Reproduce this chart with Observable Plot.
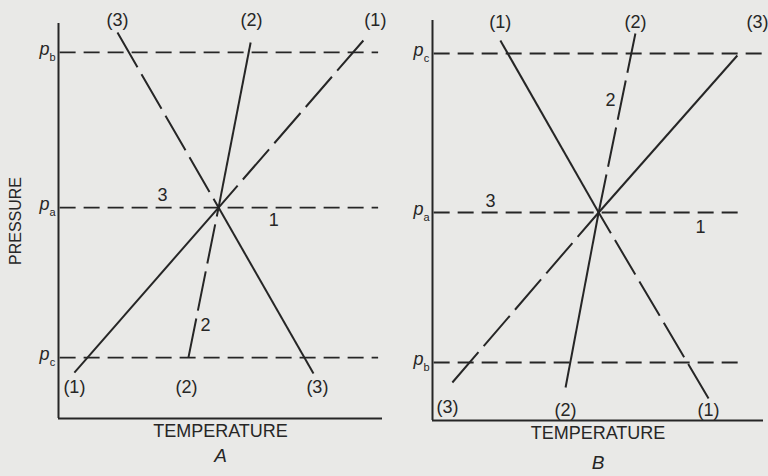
<!DOCTYPE html>
<html>
<head>
<meta charset="utf-8">
<script src="https://cdn.jsdelivr.net/npm/d3@7"></script>
<script src="https://cdn.jsdelivr.net/npm/@observablehq/plot@0.6"></script>
<style>
  html, body { margin: 0; padding: 0; background: #e9e9e7; }
  #page { position: relative; width: 768px; height: 476px; overflow: hidden; }
  .panel { position: absolute; top: 0; }
</style>
</head>
<body>
<div id="page">
  <div class="panel" id="panelA" style="left:0"></div>
  <div class="panel" id="panelB" style="left:384px"></div>
</div>
<script>
// ---- Panel A: three univariant curves meeting at the invariant point ----
const curvesA = ["(1)", "(2)", "(3)"];
const tripleA = [49.4, 53.4];                               // [temperature, pressure]
const lowEndsA = [[4.9, 11.6], [40.1, 15.4], [78.7, 11.4]];
const highEndsA = [[94.1, 95.7], [59.3, 95.2], [18.2, 97.7]];
const metastableA = ["high", "low", "high"];                // which half is metastable
const isobarNamesA = ["b", "a", "c"];
const isobarPressA = [92.7, 53.4, 15.4];
const isobarSpanA = [[0.5, 98.8], [0.5, 98.8], [0.5, 98.8]];
const topLabelPosA = [[97.8, 100.8], [59.6, 100.8], [18.2, 100.8]];
const bottomLabelPosA = [[4.9, 7.8], [39.5, 7.8], [79.9, 7.8]];
const fieldNamesA = ["3", "1", "2"];
const fieldPosA = [[32.1, 56.5], [66.4, 50.1], [45.4, 23.5]];

// ---- Panel B ----
const curvesB = ["(1)", "(2)", "(3)"];
const tripleB = [50.2, 52.0];
const lowEndsB = [[83.4, 5.5], [40.2, 8.25], [6.0, 9.5]];
const highEndsB = [[20.5, 95.0], [61.3, 96.75], [92.1, 91.25]];
const metastableB = ["low", "high", "low"];
const isobarNamesB = ["c", "a", "b"];
const isobarPressB = [91.75, 52.0, 14.5];
const isobarSpanB = [[0.5, 101.2], [0.5, 93.1], [0.5, 94.0]];
const topLabelPosB = [[20.5, 99.5], [61.3, 99.5], [98.2, 99.5]];
const bottomLabelPosB = [[83.4, 2.5], [40.2, 2.5], [4.5, 3.25]];
const fieldNamesB = ["3", "2", "1"];
const fieldPosB = [[17.5, 54.75], [53.8, 80], [81, 48.25]];

const ink = "#262626";
const sans = "'Liberation Sans', Arial, sans-serif";

function panel(cfg) {
  const segs = [];
  cfg.curves.forEach((c, i) => {
    for (const side of ["low", "high"]) {
      const end = side === "low" ? cfg.lowEnds[i] : cfg.highEnds[i];
      // drawn from the outer end toward the invariant point
      segs.push({curve: c, T1: end[0], P1: end[1], T2: cfg.triple[0], P2: cfg.triple[1],
                 metastable: cfg.metastable[i] === side});
    }
  });
  const isobars = cfg.isobarNames.map((n, i) => ({
    name: n, P: cfg.isobarPress[i], T1: cfg.isobarSpan[i][0], T2: cfg.isobarSpan[i][1]
  }));
  const curveLabels = [
    ...cfg.curves.map((c, i) => ({text: c, T: cfg.topLabels[i][0], P: cfg.topLabels[i][1]})),
    ...cfg.curves.map((c, i) => ({text: c, T: cfg.bottomLabels[i][0], P: cfg.bottomLabels[i][1]}))
  ];
  const fields = cfg.fieldNames.map((n, i) => ({text: n, T: cfg.fieldPos[i][0], P: cfg.fieldPos[i][1]}));

  const marks = [
    Plot.ruleY(isobars, {y: "P", x1: "T1", x2: "T2", stroke: ink, strokeWidth: 1.8, strokeDasharray: "16,8"}),
    Plot.link(segs.filter(d => !d.metastable), {x1: "T1", y1: "P1", x2: "T2", y2: "P2", stroke: ink, strokeWidth: 2}),
    Plot.link(segs.filter(d => d.metastable), {x1: "T1", y1: "P1", x2: "T2", y2: "P2", stroke: ink, strokeWidth: 2, strokeDasharray: "40,8"}),
    Plot.ruleX([0], {y1: 0, y2: 100, stroke: ink, strokeWidth: 2}),
    Plot.ruleY([0], {x1: 0, x2: 100, stroke: ink, strokeWidth: 2}),
    Plot.text(curveLabels, {x: "T", y: "P", text: "text", fontSize: 18, fill: ink, fontFamily: sans}),
    Plot.text(fields, {x: "T", y: "P", text: "text", fontSize: 18, fill: ink, fontFamily: sans}),
    Plot.text(isobars, {x: 0, y: "P", text: () => "p", dx: -14, dy: -3, fontSize: 18, fontStyle: "italic", fill: ink, fontFamily: sans}),
    Plot.text(isobars, {x: 0, y: "P", text: "name", dx: -6, dy: 5, fontSize: 11, fill: ink, fontFamily: sans}),
    Plot.text(["TEMPERATURE"], {frameAnchor: "bottom", dy: 18, fontSize: 18, fill: ink, fontFamily: sans}),
    Plot.text([cfg.letter], {frameAnchor: "bottom", dy: cfg.letterDy, fontSize: 19, fontStyle: "italic", fill: ink, fontFamily: sans})
  ];
  if (cfg.yLabel) {
    marks.push(Plot.text([cfg.yLabel], {frameAnchor: "left", textAnchor: "middle", dx: -43, rotate: -90, fontSize: 16, fill: ink, fontFamily: sans}));
  }

  return Plot.plot({
    width: 384, height: 476,
    marginLeft: cfg.margins[0], marginRight: cfg.margins[1],
    marginTop: cfg.margins[2], marginBottom: cfg.margins[3],
    x: {domain: [0, 100], axis: null},
    y: {domain: [0, 100], axis: null},
    style: {background: "transparent", overflow: "visible"},
    marks
  });
}

document.getElementById("panelA").append(panel({
  curves: curvesA, triple: tripleA, lowEnds: lowEndsA, highEnds: highEndsA, metastable: metastableA,
  isobarNames: isobarNamesA, isobarPress: isobarPressA, isobarSpan: isobarSpanA,
  topLabels: topLabelPosA, bottomLabels: bottomLabelPosA, fieldNames: fieldNamesA, fieldPos: fieldPosA,
  letter: "A", letterDy: 43, yLabel: "PRESSURE",
  margins: [58, 2, 23, 58]
}));

document.getElementById("panelB").append(panel({
  curves: curvesB, triple: tripleB, lowEnds: lowEndsB, highEnds: highEndsB, metastable: metastableB,
  isobarNames: isobarNamesB, isobarPress: isobarPressB, isobarSpan: isobarSpanB,
  topLabels: topLabelPosB, bottomLabels: bottomLabelPosB, fieldNames: fieldNamesB, fieldPos: fieldPosB,
  letter: "B", letterDy: 48, yLabel: null,
  margins: [48, 5, 20, 56]
}));
</script>
</body>
</html>
